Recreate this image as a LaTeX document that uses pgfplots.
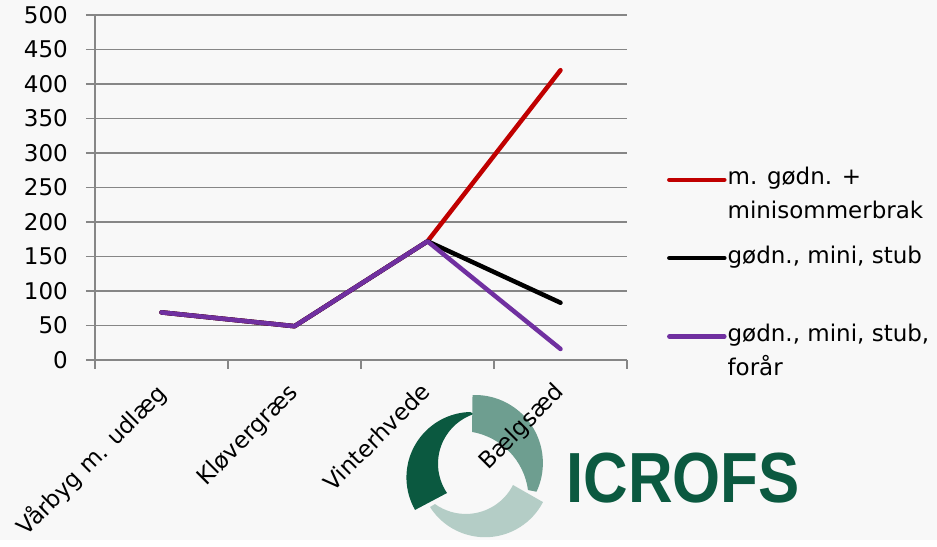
\documentclass[border=0pt]{standalone}
\usepackage{fontspec}
\setmainfont{DejaVu Sans}
\newfontfamily\logofont{Liberation Sans}
\usepackage{pgfplots}
\pgfplotsset{compat=1.18}
\definecolor{bgc}{HTML}{F8F8F8}
\definecolor{gridc}{HTML}{868686}
\definecolor{sred}{HTML}{C00000}
\definecolor{spurple}{HTML}{7030A0}
\definecolor{logodark}{HTML}{0B5940}
\definecolor{logomid}{HTML}{6E9E90}
\definecolor{logolight}{HTML}{B4CDC6}

\begin{document}
\begin{tikzpicture}
% page background, same size as the reference
\fill[bgc] (-95bp,-180bp) rectangle (842bp,360bp);
% ICROFS logo
\begin{scope}[shift={(380bp,-106bp)}]
  \fill[logolight] (-45bp,-41bp) arc[start angle=212.5,end angle=332.5,radius=65.3bp]
     -- (38bp,-19bp) arc[start angle=-26.9,end angle=-125.7,radius=52.9bp] -- cycle;
  \fill[logodark] (-5bp,54bp) arc[start angle=91.7,end angle=209.7,radius=65.5bp]
     -- (-28bp,-27bp) arc[start angle=214.1,end angle=108.1,radius=52.3bp] -- cycle;
  \fill[logomid] (92:71bp) arc[start angle=92,end angle=-25,radius=68bp]
     -- (53bp,-24bp) arc[start angle=7.7,end angle=80.2,radius=68.2bp] -- cycle;
\end{scope}
\node[logodark, font=\logofont\bfseries\fontsize{71bp}{71bp}\selectfont,
      anchor=base, xscale=0.87] at (588bp,-143bp) {ICROFS};

\begin{axis}[
  at={(0,0)}, anchor=south west,
  scale only axis, width=532bp, height=345bp,
  xmin=-0.5, xmax=3.5, ymin=0, ymax=500,
  ytick={0,50,...,500},
  xtick={-0.5,0.5,1.5,2.5,3.5},
  xticklabels={,,,,},
  extra x ticks={0,1,2,3},
  extra x tick labels={Vårbyg m. udlæg,Kløvergræs,Vinterhvede,Bælgsæd},
  extra x tick style={tick style={draw=none},
    xticklabel style={xshift=-8bp, yshift=-12bp, rotate=45, anchor=north east, inner sep=0pt}},
  axis lines*=left,
  axis line style={gridc, line width=1.3bp},
  ymajorgrids,
  grid style={gridc, line width=1.3bp},
  tick style={gridc, line width=1.3bp},
  tick align=outside,
  major tick length=9bp,
  ticklabel style={font=\fontsize{23bp}{28bp}\selectfont},
  yticklabel style={inner sep=0pt, xshift=-18bp},
  /pgf/number format/assume math mode=true,
  legend style={draw=none, fill=none, at={(1.075,0.577)}, anchor=north west,
    inner sep=0pt, row sep=53bp, nodes={inner sep=0pt},
    font=\fontsize{23bp}{34bp}\selectfont,
    /tikz/every odd column/.append style={column sep=1bp}},
  legend cell align=left,
  legend image code/.code={\draw[#1, line cap=round] (0bp,-6bp) -- (55bp,-6bp);},
]
\addplot[sred, line width=4.5bp, line join=round, line cap=round]
  coordinates {(0,69) (1,49) (2,172) (3,420)};
\addlegendentry{\begin{tabular}[t]{@{}l@{}}m. gødn. +\\minisommerbrak\end{tabular}}
\addplot[black, line width=4.5bp, line join=round, line cap=round]
  coordinates {(0,69) (1,49) (2,172) (3,83)};
\addlegendentry{\begin{tabular}[t]{@{}l@{}}gødn., mini, stub\\\mbox{}\end{tabular}}
\addplot[spurple, line width=4.5bp, line join=round, line cap=round]
  coordinates {(0,69) (1,49) (2,172) (3,16)};
\addlegendentry{\begin{tabular}[t]{@{}l@{}}gødn., mini, stub,\\forår\end{tabular}}
\end{axis}
\end{tikzpicture}
\end{document}
